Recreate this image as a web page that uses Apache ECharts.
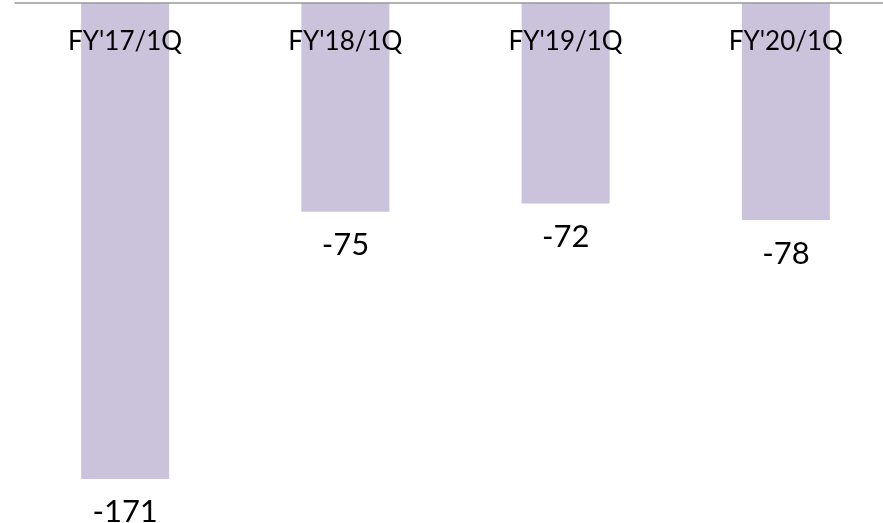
<!DOCTYPE html>
<html>
<head>
<meta charset="utf-8">
<script src="https://cdn.jsdelivr.net/npm/echarts@6/dist/echarts.min.js"></script>
<style>
  html, body { margin: 0; padding: 0; background: #fff; }
  #chart { width: 883px; height: 523px; }
</style>
</head>
<body>
<div id="chart"></div>
<script>
var categories = ["FY'17/1Q", "FY'18/1Q", "FY'19/1Q", "FY'20/1Q"];
var values = [-171, -75, -72, -78];

var chart = echarts.init(document.getElementById('chart'));

var option = {
	animation: false,
	backgroundColor: '#fff',
	grid: { left: 15, right: -13, top: 3, bottom: 19, outerBoundsMode: 'none' },
	xAxis: {
		type: 'category',
		position: 'top',
		data: categories,
		axisLine: { lineStyle: { color: '#999', width: 1.5 } },
		axisTick: { show: false },
		axisLabel: {
			inside: true,
			margin: 26,
			color: '#000',
			fontSize: 26,
			fontFamily: 'Lato'
		},
		z: 5
	},
	yAxis: {
		type: 'value',
		min: -180,
		max: 0,
		show: false,
		splitLine: { show: false }
	},
	series: [
		{
			type: 'bar',
			data: values,
			barWidth: 88,
			itemStyle: { color: '#cbc3dc' },
			label: {
				show: true,
				position: 'bottom',
				distance: 18,
				color: '#000',
				fontSize: 31,
				fontFamily: 'Lato'
			}
		}
	]
};

chart.setOption(option);
</script>
</body>
</html>
